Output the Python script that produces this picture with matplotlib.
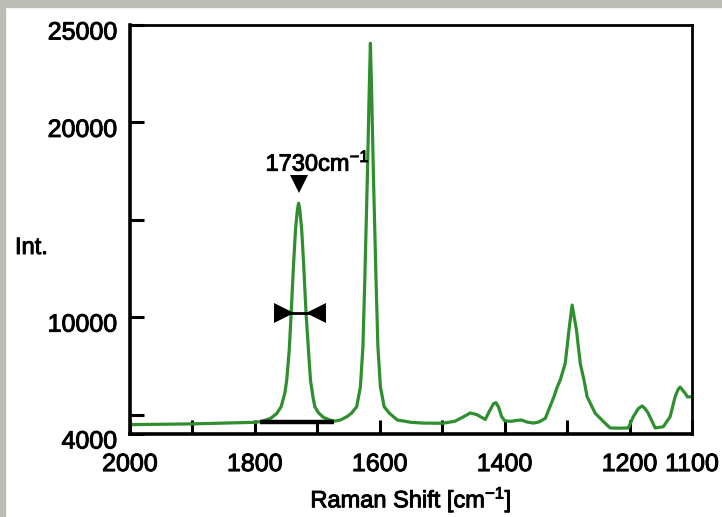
import matplotlib
matplotlib.use("Agg")
import matplotlib.pyplot as plt
import matplotlib.transforms as mtransforms
import matplotlib.patheffects as pe
from matplotlib.patches import Rectangle

plt.rcParams["font.family"] = ["Liberation Sans", "DejaVu Sans"]
plt.rcParams["mathtext.fontset"] = "custom"
plt.rcParams["mathtext.rm"] = "Liberation Sans"
plt.rcParams["mathtext.it"] = "Liberation Sans"

# Raman spectrum: shift [cm^-1] and intensity
shift = [2000, 1950, 1900, 1850, 1800, 1790, 1775, 1765, 1758, 1752, 1749, 1745,
         1742, 1738, 1735, 1732, 1730, 1728, 1725, 1722, 1718, 1714, 1711, 1707,
         1704, 1698, 1690, 1680, 1672, 1663, 1652, 1645, 1637, 1631, 1627, 1624,
         1620, 1617, 1615, 1613, 1610, 1606, 1603, 1599, 1593, 1585, 1572, 1550,
         1530, 1500, 1480, 1465, 1455, 1445, 1431, 1424, 1418, 1414, 1410, 1405,
         1400, 1390, 1380, 1373, 1365, 1354, 1345, 1335, 1321, 1316, 1311, 1303,
         1297, 1292, 1285, 1279, 1273, 1268, 1255, 1239, 1231, 1215, 1202, 1194,
         1186, 1180, 1175, 1170, 1159, 1146, 1135, 1127, 1122, 1119, 1115, 1111,
         1107, 1100]
intensity = [4480, 4500, 4520, 4560, 4600, 4640, 4800, 5050, 5400, 6100, 6770, 8300,
             10150, 12760, 14470, 15500, 15850, 15500, 14470, 12760, 10150, 8200, 6770, 5900,
             5400, 5080, 4850, 4720, 4660, 4720, 4900, 5080, 5400, 6430, 8480, 11900,
             17040, 21500, 24060, 21500, 17040, 11900, 8480, 6430, 5400, 5080, 4720, 4600,
             4560, 4550, 4650, 4900, 5080, 5000, 4750, 5200, 5550, 5610, 5400, 4900,
             4680, 4650, 4700, 4720, 4620, 4560, 4620, 4800, 5920, 6400, 6770, 7630,
             9340, 10620, 9340, 7630, 6770, 5920, 5060, 4550, 4310, 4300, 4310, 4890,
             5300, 5440, 5300, 5060, 4310, 4375, 4890, 5920, 6300, 6410, 6250, 6090,
             5900, 5920]

# Peak marker and width annotation
peak_shift = 1730
peak_marker_level = 16850
peak_label = "1730cm$^{-1}$"
label_pos = (1783, 17900)
fwhm_level = 10200
fwhm_left, fwhm_right = 1753, 1702
base_level = 4620
base_left, base_right = 1792, 1673

# Axis ticks
x_major = [2000, 1800, 1600, 1400, 1200, 1100]
x_minor = [1900, 1700, 1500, 1300]
y_major = [4000, 10000, 20000, 25000]
y_minor = [5000, 15000]

heavy = [pe.withStroke(linewidth=0.7, foreground="black")]

fig = plt.figure(figsize=(7.22, 5.17), dpi=100)
ax = fig.add_axes([130 / 722, 1 - 434 / 517, 562 / 722, 409 / 517])

green = "#2f8f2f"
ax.plot(shift, intensity, color=green, lw=2.3, solid_joinstyle="round")

ax.set_xlim(2000, 1100)
ax.set_ylim(4000, 25000)

# width bar at the base of the 1730 band
ax.plot([base_left, base_right], [base_level, base_level], color="black", lw=3.2,
        solid_capstyle="butt", zorder=3)

# peak marker
ax.plot([peak_shift], [peak_marker_level], marker="v", color="black", ms=13,
        mew=0, zorder=4)
ax.text(label_pos[0], label_pos[1], peak_label, fontsize=17, ha="left", va="center",
        path_effects=heavy)

# FWHM arrows
ax.plot([fwhm_left, fwhm_right], [fwhm_level, fwhm_level], color="black", lw=2, zorder=3)
ax.plot([fwhm_left], [fwhm_level], marker=">", color="black", ms=15, mew=0, zorder=4)
ax.plot([fwhm_right], [fwhm_level], marker="<", color="black", ms=15, mew=0, zorder=4)

ax.set_xticks(x_major)
ax.set_xticks(x_minor, minor=True)
ax.set_xticklabels([str(v) for v in x_major])
ax.set_yticks(y_major)
ax.set_yticks(y_minor, minor=True)
ax.set_yticklabels([str(v) for v in y_major])

ax.tick_params(axis="both", which="both", direction="in", length=10, width=2.2,
               labelsize=18)
ax.tick_params(axis="x", which="both", pad=13, top=False)
ax.tick_params(axis="y", which="both", pad=9, right=False)

for side in ["left", "bottom"]:
    ax.spines[side].set_linewidth(2.6)
for side in ["top", "right"]:
    ax.spines[side].set_linewidth(2.0)

offset = mtransforms.ScaledTranslation(0, -5 / 100, fig.dpi_scale_trans)
for lbl in ax.get_yticklabels():
    lbl.set_transform(lbl.get_transform() + offset)
    lbl.set_path_effects(heavy)
for lbl in ax.get_xticklabels():
    lbl.set_path_effects(heavy)

ax.set_xlabel("Raman Shift [cm$^{-1}$]", fontsize=17, labelpad=6, path_effects=heavy)
fig.text(15 / 722, 1 - 248 / 517, "Int.", fontsize=17, ha="left", va="center",
         path_effects=heavy)

# grey frame edges
fig.patches.append(Rectangle((0, 0), 5 / 722, 1, transform=fig.transFigure,
                             color="#bdbdb8", zorder=0))
fig.patches.append(Rectangle((0, 1 - 7 / 517), 1, 7 / 517, transform=fig.transFigure,
                             color="#bdbdb8", zorder=0))

fig.savefig("out.png", dpi=100)
